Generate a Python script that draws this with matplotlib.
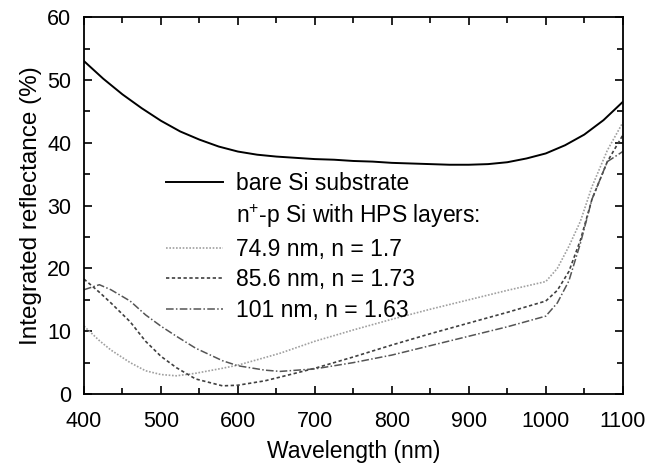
import matplotlib.pyplot as plt
from matplotlib.lines import Line2D
from matplotlib.ticker import MultipleLocator

plt.rcParams['font.family'] = ['Liberation Sans', 'DejaVu Sans']
plt.rcParams['mathtext.default'] = 'regular'

# integrated reflectance (%) vs wavelength (nm)
wl_bare = [400, 425, 450, 475, 500, 525, 550, 575, 600, 625, 650, 675, 700, 725, 750, 775, 800,
           825, 850, 875, 900, 925, 950, 975, 1000, 1025, 1050, 1075, 1100]
r_bare = [53, 50.2, 47.7, 45.5, 43.5, 41.8, 40.5, 39.4, 38.6, 38.1, 37.8, 37.6, 37.4, 37.3, 37.1, 37.0, 36.8,
          36.7, 36.6, 36.5, 36.5, 36.6, 36.9, 37.5, 38.3, 39.6, 41.3, 43.6, 46.5]

wl_hps = [400, 420, 435, 460, 480, 500, 520, 545, 580, 600, 635, 655, 700, 750, 800, 850, 900, 950, 1000,
          1015, 1030, 1045, 1060, 1080, 1100]
r_749 = [10.8, 8.5, 7.0, 5.0, 3.7, 3.1, 2.9, 3.3, 4.1, 4.6, 5.8, 6.5, 8.4, 10.2, 11.9, 13.5, 15, 16.5, 17.9,
         20, 23.5, 27.5, 33, 38.8, 43.2]
r_856 = [18.3, 16.2, 14.5, 11.5, 8.4, 6.0, 4.2, 2.4, 1.3, 1.4, 2.1, 2.7, 4.1, 5.9, 7.8, 9.6, 11.3, 13.0, 14.8,
         16.5, 19.5, 24.5, 31, 37, 41.2]
r_101 = [16.6, 17.4, 16.6, 14.8, 12.6, 10.8, 9.2, 7.3, 5.3, 4.5, 3.8, 3.6, 4.0, 5.0, 6.2, 7.7, 9.2, 10.7, 12.4,
         14.5, 18, 24, 31, 37, 38.6]

fig = plt.figure(figsize=(6.46, 4.63), dpi=100)
ax = fig.add_axes([0.13, 0.149, 0.834, 0.814])

ax.plot(wl_bare, r_bare, color='black', lw=1.4)
ax.plot(wl_hps, r_749, color='#a0a0a0', lw=1.2, ls=(0, (1, 1)))
ax.plot(wl_hps, r_856, color='#404040', lw=1.2, ls=(0, (2, 1.5)))
ax.plot(wl_hps, r_101, color='#555555', lw=1.1, ls=(0, (5, 1.5, 1, 1.5)))

ax.set_xlim(400, 1100)
ax.set_ylim(0, 60)
ax.xaxis.set_major_locator(MultipleLocator(100))
ax.xaxis.set_minor_locator(MultipleLocator(50))
ax.yaxis.set_major_locator(MultipleLocator(10))
ax.yaxis.set_minor_locator(MultipleLocator(5))
ax.tick_params(which='both', direction='in', top=True, right=True, labelsize=15.5, width=1.2)
ax.tick_params(which='major', length=6)
ax.tick_params(axis='x', which='major', pad=12)
ax.tick_params(axis='y', which='major', pad=9)
ax.tick_params(which='minor', length=4)
for s in ax.spines.values():
    s.set_linewidth(1.3)

ax.set_xlabel('Wavelength (nm)', fontsize=16.5, labelpad=6)
ax.set_ylabel('Integrated reflectance (%)', fontsize=17.5, labelpad=4)

handles = [
    Line2D([], [], color='black', lw=1.4),
    Line2D([], [], color='none'),
    Line2D([], [], color='#a0a0a0', lw=1.2, ls=(0, (1, 1))),
    Line2D([], [], color='#404040', lw=1.2, ls=(0, (2, 1.5))),
    Line2D([], [], color='#555555', lw=1.1, ls=(0, (5, 1.5, 1, 1.5))),
]
labels = ['bare Si substrate', 'n$^{+}$-p Si with HPS layers:',
          '74.9 nm, n = 1.7', '85.6 nm, n = 1.73', '101 nm, n = 1.63']
ax.legend(handles, labels, loc='upper left', bbox_to_anchor=(0.152, 0.59),
          frameon=False, fontsize=16.5, handlelength=2.5, handletextpad=0.55,
          labelspacing=0.33, borderaxespad=0, borderpad=0)

fig.savefig('out.png', dpi=100)
